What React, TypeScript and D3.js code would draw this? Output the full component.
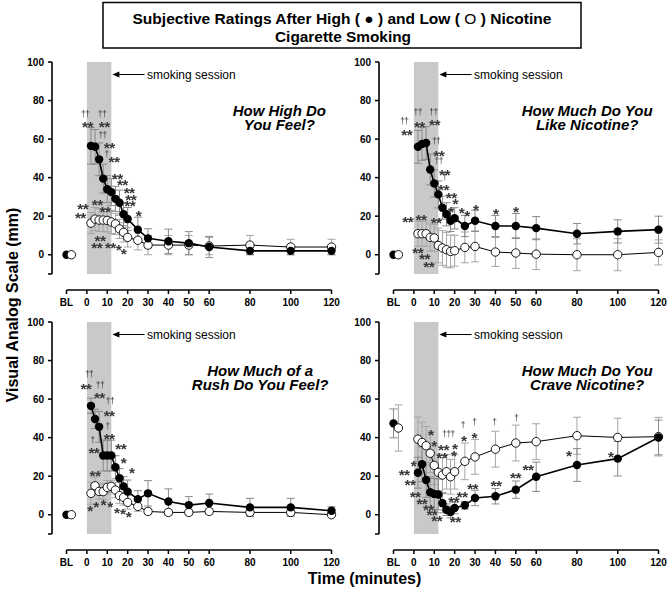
import React from "react";
import * as d3 from "d3";

// ---------- data ----------
const times = [2, 4, 6, 8, 10, 12, 14, 16, 18, 20, 25, 30, 40, 50, 60, 80, 100, 120];
const xTickValues = [-10, 0, 10, 20, 30, 40, 50, 60, 80, 100, 120];
const xTickLabels = ["BL", "0", "10", "20", "30", "40", "50", "60", "80", "100", "120"];
const yTickValues = [0, 20, 40, 60, 80, 100];

// baseline (BL) values per panel: feel, like, rush, crave
const baselineHigh = [0, 0, 0, 47.4];
const baselineHighErr = [0, 0, 0, 7.5];
const baselineLow = [0, 0, 0, 45];
const baselineLowErr = [0, 0, 0, 12];

// How High Do You Feel?
const feelHigh = [56.5, 56, 49.5, 39.5, 34, 32.5, 29, 27, 21, 18.5, 13, 8.5, 7, 6, 4, 2, 2, 2];
const feelHighErr = [9.5, 9, 8.5, 7.5, 7, 7, 6.5, 6.5, 6, 6, 6.5, 5, 6.3, 6, 5.5, 2, 2, 2];
const feelLow = [16.4, 18.5, 18, 18, 17.8, 17, 16, 13.4, 11.6, 9, 7.5, 5, 5, 5, 4.5, 5, 4, 4];
const feelLowErr = [5.5, 6, 6, 6, 6, 6, 5.5, 5, 5, 5, 5, 5, 5, 5, 4.5, 5, 4, 4];
const feelSig: [number, number, string][] = [
  [-0.8, 73, "††"], [7.4, 73, "††"], [0.3, 68.3, "**"], [8.5, 68.3, "**"],
  [7.7, 62, "††"], [11, 57.6, "**"], [9.7, 52.3, "†"], [13.3, 50, "**"],
  [14.9, 41.4, "**"], [17.4, 38, "**"], [20.7, 34, "**"], [21.5, 30.4, "**"],
  [21, 27.2, "**"], [25.3, 22, "*"],
  [-2, 25.8, "**"], [5.1, 27.7, "**"], [-3.2, 21, "**"], [8.9, 24.3, "**"],
  [6.4, 9, "**"], [4.8, 5.7, "**"], [11.5, 5.7, "**"], [15.5, 4.5, "*"], [18, 2.4, "*"],
];

// How Much Do You Like Nicotine?
const likeHigh = [56, 57.5, 58, 44.2, 37, 31.3, 24.4, 21, 17.6, 18.9, 14.9, 17.6, 14.9, 14.9, 13.8, 10.9, 12.1, 13];
const likeHighErr = [8.5, 8.5, 8.5, 8, 7, 7, 6, 6, 5.5, 5.5, 5.5, 5.5, 5.5, 6.5, 6, 5.3, 6, 7];
const likeLow = [10.9, 10.9, 10.9, 9, 8.7, 4.8, 3.5, 2.6, 1.7, 2.1, 3.8, 4.3, 1.4, 0.9, 0.3, 0, 0, 1.2];
const likeLowErr = [6.5, 6.5, 6.5, 7, 7, 9, 9, 9, 8.5, 8, 8, 8, 7.5, 8, 8, 8.3, 8.3, 6.5];
const likeSig: [number, number, string][] = [
  [1.9, 73.8, "††"], [9.6, 74, "††"], [-4.7, 69.4, "††"], [2.7, 68.4, "**"], [10.1, 69.4, "**"],
  [-3.5, 64.2, "**"], [10.9, 59, "††"], [12.2, 53.4, "**"], [12.2, 48.2, "††"], [15, 43.5, "**"],
  [15, 40.1, "†"], [14.5, 35.6, "**"], [18.3, 31.3, "**"], [20.3, 28.3, "*"], [18.1, 24.5, "*"],
  [23.3, 23.9, "*"], [26.1, 22.2, "*"], [30.3, 25.2, "*"], [40.2, 23.1, "*"], [50, 24, "*"],
  [-3, 18.8, "**"], [3.5, 20, "**"], [10.9, 18.5, "**"],
  [1.9, 2.8, "**"], [5.2, -0.2, "**"], [7.3, -4.1, "**"],
];

// How Much of a Rush Do You Feel?
const rushHigh = [56.5, 49.7, 45.6, 30.7, 30.7, 30.7, 24.6, 18.9, 14.7, 12, 8.1, 11.1, 6.9, 5, 6.1, 3.8, 3.8, 2.1];
const rushHighErr = [4, 5, 8, 8, 8, 8, 6, 5, 5, 6, 4.4, 6.6, 6.5, 4.4, 4.6, 4.7, 4.7, 2];
const rushLow = [11.1, 15, 12.1, 12, 14.2, 14.7, 12.8, 9.9, 9, 6.4, 4.3, 1.7, 1.2, 1.2, 1.7, 1.2, 1.2, 0];
const rushLowErr = [5.7, 4.5, 4, 4, 3.5, 3, 4, 4, 4, 3.5, 2.5, 1.5, 1.5, 1.5, 1.5, 1.5, 1.5, 1];
const rushSig: [number, number, string][] = [
  [1.1, 73, "††"], [-0.5, 67.3, "**"], [6.4, 67.3, "††"], [6.1, 62.5, "**"],
  [11.3, 58.6, "††"], [10.9, 53.5, "**"], [10.2, 46, "†"], [10.9, 41.4, "**"],
  [2.8, 38.8, "†"], [3.4, 33.9, "**"], [16.6, 36.2, "**"], [17.9, 28.7, "*"], [22, 23.5, "*"],
  [4, 22.3, "**"],
  [1.5, 3.8, "*"], [4.4, 5.9, "*"], [8, 6.9, "*"], [11.3, 5.9, "*"], [14.6, 2.9, "*"],
  [17.6, 2.4, "*"], [20.4, 0.7, "*"],
];

// How Much Do You Crave Nicotine?
const craveHigh = [21.8, 26.2, 18, 11.7, 10.8, 10.5, 6, 2.6, 1.4, 3.5, 4.9, 8.7, 9.6, 13, 19.7, 25.8, 29.1, 40.1];
const craveHighErr = [8, 9, 9, 8, 8, 8, 5, 3, 3, 3, 2, 4, 4, 4.5, 7.6, 8.5, 9, 9];
const craveLow = [39.2, 37.5, 35.8, 31.9, 25.6, 22, 20.6, 22.3, 19.7, 22.3, 27.7, 30, 34, 37.2, 37.9, 41, 40.1, 40.5];
const craveLowErr = [11.5, 10.5, 10, 10, 10, 9.5, 9, 9, 9, 9, 9.5, 9, 9.3, 9.3, 9.3, 9.6, 10, 10];
const craveSig: [number, number, string][] = [
  [8.3, 43.6, "*"], [9.9, 37.5, "*"], [17, 41.9, "†††"], [14.5, 35.8, "**"], [20, 36, "*"],
  [13.7, 31.7, "**"], [19.5, 32.5, "*"], [24, 46.6, "†"], [24.4, 40.1, "*"], [29.6, 48, "†"],
  [29.6, 41.9, "*"], [39.5, 48, "†"], [50.3, 50.2, "†"], [76, 32.8, "*"], [96.6, 31.8, "*"],
  [-0.2, 27.4, "*"], [-4.8, 22.7, "**"], [-1.9, 17.4, "**"], [0.6, 11.3, "**"], [3.9, 7.8, "**"],
  [7.1, 4.3, "**"], [8.8, 1.7, "**"], [11.2, -1.4, "**"], [20.3, -1.7, "**"], [19.5, 8.7, "**"],
  [23.6, 11.3, "**"], [28.8, 15.3, "**"], [40.3, 17, "**"], [49.8, 21, "**"], [56, 25.3, "**"],
];

const panelTitles = [
  ["How High Do", "You Feel?"],
  ["How Much Do You", "Like Nicotine?"],
  ["How Much of a", "Rush Do You Feel?"],
  ["How Much Do You", "Crave Nicotine?"],
];

const FONT = "'Liberation Sans', Arial, Helvetica, sans-serif";

type PanelData = {
  idx: number;
  high: number[]; highErr: number[]; low: number[]; lowErr: number[];
  sig: [number, number, string][];
  titleT: number;
};

const panels: PanelData[] = [
  { idx: 0, high: feelHigh, highErr: feelHighErr, low: feelLow, lowErr: feelLowErr, sig: feelSig, titleT: 94.4 },
  { idx: 1, high: likeHigh, highErr: likeHighErr, low: likeLow, lowErr: likeLowErr, sig: likeSig, titleT: 85 },
  { idx: 2, high: rushHigh, highErr: rushHighErr, low: rushLow, lowErr: rushLowErr, sig: rushSig, titleT: 85 },
  { idx: 3, high: craveHigh, highErr: craveHighErr, low: craveLow, lowErr: craveLowErr, sig: craveSig, titleT: 85 },
];

const offsets = [[0, 0], [327, 0], [0, 260], [327, 260]];

const x = d3.scaleLinear().domain([-10, 120]).range([66.5, 331.5]);
const y = d3.scaleLinear().domain([-10, 100]).range([274, 62]);
const AXIS_X = 52;
const AXIS_Y = 290;
const BL_OPEN_SHIFT = 2.4;

function ErrorBars({ ts, vals, errs, color }: { ts: number[]; vals: number[]; errs: number[]; color: string }) {
  return (
    <g stroke={color} strokeWidth={1}>
      {ts.map((t, i) => {
        const cx = x(t);
        const y1 = y(vals[i] + errs[i]);
        const y2 = y(vals[i] - errs[i]);
        if (errs[i] <= 0) return null;
        return (
          <g key={i}>
            <line x1={cx} x2={cx} y1={y1} y2={y2} />
            <line x1={cx - 4} x2={cx + 4} y1={y1} y2={y1} />
            <line x1={cx - 4} x2={cx + 4} y1={y2} y2={y2} />
          </g>
        );
      })}
    </g>
  );
}

function Panel({ p }: { p: PanelData }) {
  const [dx, dy] = offsets[p.idx];
  const lineGen = d3.line<number>().x((_, i) => x(times[i])).y((v) => y(v));
  const r = 4.2;
  const arrowY = y(93.5);
  const title = panelTitles[p.idx];
  return (
    <g transform={`translate(${dx},${dy})`}>
      {/* smoking session shading */}
      <rect x={x(0)} y={y(100)} width={x(12) - x(0)} height={y(-10) - y(100)} fill="#c9c9c9" />
      {/* arrow */}
      <line x1={x(12) + 6} x2={x(28.3)} y1={arrowY} y2={arrowY} stroke="#000" strokeWidth={1} />
      <polygon
        points={`${x(12) + 1},${arrowY} ${x(12) + 8},${arrowY - 3} ${x(12) + 8},${arrowY + 3}`}
        fill="#000"
      />
      <text x={x(29.5)} y={arrowY + 4} fontSize={12} fontFamily={FONT} fill="#000">
        smoking session
      </text>
      {/* title */}
      <text textAnchor="middle" fontFamily={FONT} fontWeight="bold" fontStyle="italic" fontSize={15} fill="#000">
        <tspan x={x(p.titleT)} y={y(74.5) + 5}>{title[0]}</tspan>
        <tspan x={x(p.titleT)} y={y(74.5) + 19}>{title[1]}</tspan>
      </text>
      {/* y axis */}
      <line x1={AXIS_X} x2={AXIS_X} y1={y(100)} y2={y(-10)} stroke="#000" strokeWidth={1.6} />
      {[...yTickValues, -10].map((v) => (
        <line key={v} x1={AXIS_X - 4} x2={AXIS_X} y1={y(v)} y2={y(v)} stroke="#000" strokeWidth={1.5} />
      ))}
      {yTickValues.map((v) => (
        <text key={v} x={AXIS_X - 8} y={y(v) + 3.6} textAnchor="end" fontFamily={FONT} fontWeight="bold" fontSize={10}>
          {v}
        </text>
      ))}
      {/* x axis */}
      <line x1={x(-10)} x2={x(120)} y1={AXIS_Y} y2={AXIS_Y} stroke="#000" strokeWidth={1.6} />
      {xTickValues.map((v) => (
        <line key={v} x1={x(v)} x2={x(v)} y1={AXIS_Y} y2={AXIS_Y + 4} stroke="#000" strokeWidth={1.5} />
      ))}
      {xTickValues.map((v, i) => (
        <text key={v} x={x(v)} y={AXIS_Y + 15.5} textAnchor="middle" fontFamily={FONT} fontWeight="bold" fontSize={10}>
          {xTickLabels[i]}
        </text>
      ))}
      {/* error bars */}
      <ErrorBars ts={times} vals={p.low} errs={p.lowErr} color="#a6a6a6" />
      <ErrorBars ts={times} vals={p.high} errs={p.highErr} color="#8a8a8a" />
      <ErrorBars ts={[-10 + BL_OPEN_SHIFT]} vals={[baselineLow[p.idx]]} errs={[baselineLowErr[p.idx]]} color="#a6a6a6" />
      <ErrorBars ts={[-10]} vals={[baselineHigh[p.idx]]} errs={[baselineHighErr[p.idx]]} color="#8a8a8a" />
      {/* low nicotine */}
      <path d={lineGen(p.low) || ""} fill="none" stroke="#000" strokeWidth={1} />
      {/* high nicotine */}
      <path d={lineGen(p.high) || ""} fill="none" stroke="#000" strokeWidth={1.6} />
      {p.low.map((v, i) => (
        <circle key={"l" + i} cx={x(times[i])} cy={y(v)} r={r} fill="#fff" stroke="#000" strokeWidth={0.9} />
      ))}
      {p.high.map((v, i) => (
        <circle key={"h" + i} cx={x(times[i])} cy={y(v)} r={r} fill="#000" />
      ))}
      <circle cx={x(-10)} cy={y(baselineHigh[p.idx])} r={r} fill="#000" />
      <circle cx={x(-10 + BL_OPEN_SHIFT)} cy={y(baselineLow[p.idx])} r={r} fill="#fff" stroke="#000" strokeWidth={0.9} />
      {/* significance markers */}
      <g filter="url(#gray)">
        {p.sig.map(([t, v, s], i) => {
          const dagger = s.indexOf("†") >= 0;
          return (
            <text
              key={"s" + i}
              x={x(t)}
              y={y(v) + (dagger ? 2.6 : 9)}
              textAnchor="middle"
              fontFamily={FONT}
              fontWeight={dagger ? "normal" : "bold"}
              fontSize={dagger ? 8.5 : 15.5}
              letterSpacing={-0.6}
              fill="#383838"
            >
              {s}
            </text>
          );
        })}
      </g>
    </g>
  );
}

export default function App() {
  return (
    <svg
      width={672}
      height={589}
      viewBox="0 0 672 589"
      style={{ position: "absolute", left: 0, top: 0, background: "#fff" }}
    >
      <defs>
        <filter id="gray" x="-10%" y="-10%" width="120%" height="120%">
          <feColorMatrix type="saturate" values="0" />
        </filter>
      </defs>
      <rect x={0} y={0} width={672} height={589} fill="#fff" />
      {/* header box */}
      <rect x={103} y={2.5} width={478} height={45.5} fill="#fff" stroke="#000" strokeWidth={1.5} />
      <text
        x={342}
        y={23.5}
        textAnchor="middle"
        fontFamily={FONT}
        fontWeight="bold"
        fontSize={15}
        textLength={419}
        lengthAdjust="spacingAndGlyphs"
      >
        Subjective Ratings After High ( ● ) and Low ( <tspan fontWeight="normal">O</tspan> ) Nicotine
      </text>
      <text
        x={343}
        y={41.5}
        textAnchor="middle"
        fontFamily={FONT}
        fontWeight="bold"
        fontSize={15}
        textLength={136}
        lengthAdjust="spacingAndGlyphs"
      >
        Cigarette Smoking
      </text>
      {panels.map((p) => (
        <Panel key={p.idx} p={p} />
      ))}
      <text
        transform="translate(18,305) rotate(-90)"
        textAnchor="middle"
        fontFamily={FONT}
        fontWeight="bold"
        fontSize={16}
      >
        Visual Analog Scale (mm)
      </text>
      <text x={364.5} y={584} textAnchor="middle" fontFamily={FONT} fontWeight="bold" fontSize={16}>
        Time (minutes)
      </text>
    </svg>
  );
}
